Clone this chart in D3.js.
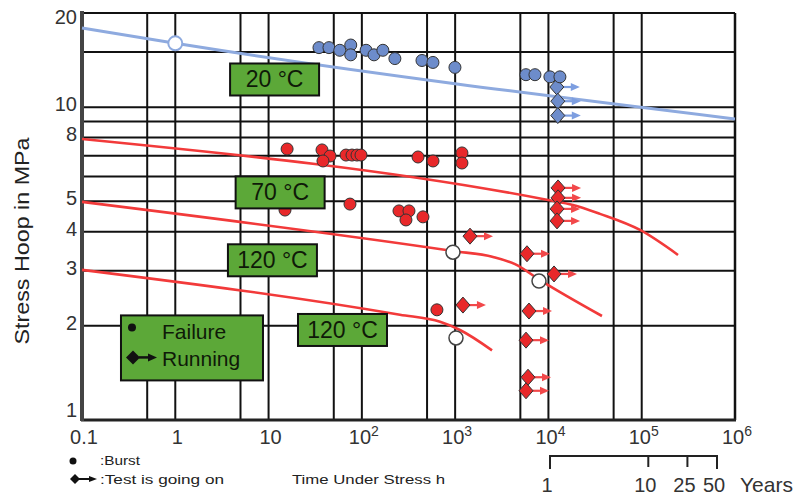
<!DOCTYPE html>
<html>
<head>
<meta charset="utf-8">
<script src="https://cdn.jsdelivr.net/npm/d3@7/dist/d3.min.js"></script>
<style>
  body { margin: 0; background: #fff; }
  text { font-family: "Liberation Sans", Arial, sans-serif; }
</style>
</head>
<body>
<div id="chart"></div>
<script>
// axes
const xTicks = [0.1, 1, 10, 100, 1000, 1e4, 1e5, 1e6];
const xTickLabels = [["0.1", ""], ["1", ""], ["10", ""], ["10", "2"], ["10", "3"], ["10", "4"], ["10", "5"], ["10", "6"]];
const xGrid = [0.5, 1, 5, 10, 50, 100, 500, 1000, 5000, 1e4, 5e4, 1e5];
const yTicks = [1, 2, 3, 4, 5, 8, 10, 20];
const yGrid = [2, 3, 4, 5, 6, 7, 8, 9, 10, 15];
const yearTicks = [1, 10, 25, 50];

// regression curves [hours, MPa]
const curve20 = [[0.1, 17.9], [1, 16.0], [1e6, 9.17]];
const curve70 = [[0.1, 7.91], [9890, 5.05], [18300, 4.87], [35700, 4.56], [95900, 4.05], [245000, 3.37]];
const curve120a = [[0.1, 4.98], [948, 3.47], [2547, 3.32], [4385, 3.15], [8130, 2.8], [37500, 2.15]];
const curve120b = [[0.1, 3.02], [256, 2.17], [689, 2.06], [1127, 1.94], [2485, 1.67]];

// test points
const blueFail = [[34.7, 15.5], [44.4, 15.5], [58, 15.2], [76, 15.8], [76, 14.7], [111, 15.2], [135, 14.7],
  [168, 15.2], [226, 14.3], [441, 14.1], [578, 13.9], [995, 13.4], [5740, 12.7], [7170, 12.7], [10370, 12.5], [13280, 12.5]];
const blueRun = [[12300, 11.6], [12600, 10.45], [12600, 9.4]];
const redFail = [[15.8, 7.35], [37.4, 7.3], [45.6, 6.98], [38.3, 6.73], [67.6, 7.03], [78.4, 7.03], [88.7, 7.03], [97.9, 7.03],
  [400, 6.93], [579, 6.73], [1183, 7.14], [1183, 6.63], [15, 4.69], [74.6, 4.9], [250, 4.66], [320, 4.66], [297, 4.36],
  [452, 4.46], [638, 2.25]];
const redRun = [[1443, 3.87], [5890, 3.4], [11480, 2.93], [12680, 5.52], [12680, 5.13], [12370, 4.73], [12370, 4.33],
  [1213, 2.33], [6190, 2.23], [5750, 1.8], [6040, 1.37], [5750, 1.24]];
const openBlue = [[1, 16.0]];
const openRed = [[948, 3.44], [7925, 2.78], [1021, 1.83]];

const tempLabels = [
  { text: "20 °C", t: 11.6, s: 12.26 },
  { text: "70 °C", t: 13.3, s: 5.34 },
  { text: "120 °C", t: 11.0, s: 3.24 },
  { text: "120 °C", t: 62, s: 1.94 }
];
const legendAt = { t: 1.51, s: 1.70 };

const width = 803, height = 499;
const margins = { top: 13, bottom: 79, left: 82, right: 68 };

const svg = d3.select("#chart").append("svg")
  .attr("width", width)
  .attr("height", height);

const x = d3.scaleLog().domain([0.1, 1e6]).range([margins.left, width - margins.right]);
const y = d3.scaleLog().domain([1, 20]).range([height - margins.bottom, margins.top]);
const yearScale = d3.scaleLog().domain([1, 50]).range([550, 717]);

const x0 = x.range()[0], x1 = x.range()[1], yB = y.range()[0], yT = y.range()[1];

// grid
svg.append("g").selectAll("line").data(xGrid).enter().append("line")
  .attr("x1", d => x(d)).attr("x2", d => x(d))
  .attr("y1", yT).attr("y2", yB)
  .style("stroke", "#111").style("stroke-width", 2);
svg.append("g").selectAll("line").data(yGrid).enter().append("line")
  .attr("x1", x0).attr("x2", x1)
  .attr("y1", d => y(d)).attr("y2", d => y(d))
  .style("stroke", "#111").style("stroke-width", 2);

// frame
svg.append("line").attr("x1", x0).attr("x2", x1).attr("y1", yT).attr("y2", yT)
  .style("stroke", "#111").style("stroke-width", 2);
svg.append("line").attr("x1", x1).attr("x2", x1).attr("y1", yT).attr("y2", yB)
  .style("stroke", "#111").style("stroke-width", 2.5);
svg.append("line").attr("x1", x0 - 1).attr("x2", x1 + 1).attr("y1", yB).attr("y2", yB)
  .style("stroke", "#222").style("stroke-width", 3);
svg.append("line").attr("x1", x0).attr("x2", x0).attr("y1", yT - 2).attr("y2", yB + 1)
  .style("stroke", "#444").style("stroke-width", 4);

// curves
const line = d3.line().x(d => x(d[0])).y(d => y(d[1])).curve(d3.curveMonotoneX);
svg.append("path").datum(curve20).attr("d", line)
  .style("fill", "none").style("stroke", "#8eaadf").style("stroke-width", 3);
[curve70, curve120a, curve120b].forEach(c => {
  svg.append("path").datum(c).attr("d", line)
    .style("fill", "none").style("stroke", "#f23a3a").style("stroke-width", 2.6);
});

// running points: diamond + arrow
function running(data, fill, arrow) {
  const g = svg.append("g").selectAll("g").data(data).enter().append("g")
    .attr("transform", d => "translate(" + x(d[0]) + "," + y(d[1]) + ")");
  g.append("path").attr("d", "M6,0L16,0").style("stroke", arrow).style("stroke-width", 2.2);
  g.append("path").attr("d", "M14,-4L23,0L14,4Z").style("fill", arrow);
  g.append("path").attr("d", "M0,-8L7,0L0,8L-7,0Z")
    .style("fill", fill).style("stroke", "#333").style("stroke-width", 1);
}
running(blueRun, "#6d8ccb", "#7d9ee0");
running(redRun, "#e8282a", "#f2484a");

// failure points
svg.append("g").selectAll("circle").data(blueFail).enter().append("circle")
  .attr("cx", d => x(d[0])).attr("cy", d => y(d[1])).attr("r", 6)
  .style("fill", "#6d8ccb").style("stroke", "#333").style("stroke-width", 1);
svg.append("g").selectAll("circle").data(redFail).enter().append("circle")
  .attr("cx", d => x(d[0])).attr("cy", d => y(d[1])).attr("r", 6)
  .style("fill", "#e8282a").style("stroke", "#333").style("stroke-width", 1);

// open circles on the curves
svg.append("g").selectAll("circle").data(openBlue).enter().append("circle")
  .attr("cx", d => x(d[0])).attr("cy", d => y(d[1])).attr("r", 7)
  .style("fill", "#fff").style("stroke", "#8eaadf").style("stroke-width", 2);
svg.append("g").selectAll("circle").data(openRed).enter().append("circle")
  .attr("cx", d => x(d[0])).attr("cy", d => y(d[1])).attr("r", 7)
  .style("fill", "#fff").style("stroke", "#444").style("stroke-width", 1.5);

// temperature labels
const lab = svg.append("g").selectAll("g").data(tempLabels).enter().append("g")
  .attr("transform", d => "translate(" + x(d.t) + "," + y(d.s) + ")");
lab.append("rect").attr("x", -44.5).attr("y", -16).attr("width", 89).attr("height", 32)
  .style("fill", "#5ca838").style("stroke", "#111").style("stroke-width", 2);
lab.append("text").attr("text-anchor", "middle").attr("y", 8)
  .style("font-size", "23px").style("fill", "#0f1a08")
  .text(d => d.text);

// legend box
const lg = svg.append("g")
  .attr("transform", "translate(" + (x(legendAt.t) - 71) + "," + (y(legendAt.s) - 32.5) + ")");
lg.append("rect").attr("width", 142).attr("height", 65)
  .style("fill", "#5ca838").style("stroke", "#111").style("stroke-width", 2);
lg.append("circle").attr("cx", 11).attr("cy", 12).attr("r", 4).style("fill", "#111");
lg.append("text").attr("x", 41).attr("y", 24).style("font-size", "21px").style("fill", "#0f1a08").text("Failure");
lg.append("path").attr("d", "M12,35L19,42L12,49L5,42Z").style("fill", "#111");
lg.append("path").attr("d", "M18,42L29,42").style("stroke", "#111").style("stroke-width", 2.5);
lg.append("path").attr("d", "M27,38L36,42L27,46Z").style("fill", "#111");
lg.append("text").attr("x", 41).attr("y", 51).style("font-size", "21px").style("fill", "#0f1a08").text("Running");

// x tick labels
const xt = svg.append("g").selectAll("text").data(xTicks).enter().append("text")
  .attr("x", d => x(d) + 2).attr("y", yB + 24)
  .attr("text-anchor", "middle")
  .style("font-size", "20px").style("fill", "#333");
xt.append("tspan").text((d, i) => xTickLabels[i][0]);
xt.append("tspan").attr("dy", -8).style("font-size", "14px").text((d, i) => xTickLabels[i][1]);

// y tick labels
svg.append("g").selectAll("text").data(yTicks).enter().append("text")
  .attr("x", x0 - 5)
  .attr("y", d => Math.min(Math.max(y(d) - 3, yT + 4), yB - 10) + 7)
  .attr("text-anchor", "end")
  .style("font-size", "20px").style("fill", "#333")
  .text(d => d);

// y axis title
svg.append("text")
  .attr("transform", "translate(29,241) rotate(-90)")
  .attr("text-anchor", "middle")
  .attr("textLength", 207).attr("lengthAdjust", "spacingAndGlyphs")
  .style("font-size", "21px").style("fill", "#222")
  .text("Stress Hoop in MPa");

// bottom legend + axis title
svg.append("circle").attr("cx", 73).attr("cy", 461).attr("r", 3.5).style("fill", "#111");
svg.append("text").attr("x", 100).attr("y", 465)
  .attr("textLength", 40).attr("lengthAdjust", "spacingAndGlyphs")
  .style("font-size", "13px").style("fill", "#222").text(":Burst");
svg.append("path").attr("d", "M75,474L80,479L75,484L70,479Z").style("fill", "#111");
svg.append("path").attr("d", "M79,479L90,479").style("stroke", "#111").style("stroke-width", 2);
svg.append("path").attr("d", "M89,476L97,479L89,482Z").style("fill", "#111");
svg.append("text").attr("x", 100).attr("y", 484)
  .attr("textLength", 124).attr("lengthAdjust", "spacingAndGlyphs")
  .style("font-size", "13px").style("fill", "#222").text(":Test is going on");
svg.append("text").attr("x", 292).attr("y", 484)
  .attr("textLength", 153).attr("lengthAdjust", "spacingAndGlyphs")
  .style("font-size", "13px").style("fill", "#222").text("Time Under Stress h");

// years bracket
const yr = svg.append("g");
yr.append("path")
  .attr("d", "M" + yearScale(1) + ",469V456H" + yearScale(50) + "V469")
  .style("fill", "none").style("stroke", "#222").style("stroke-width", 2);
yr.selectAll("line").data(yearTicks.slice(1, 3)).enter().append("line")
  .attr("x1", d => yearScale(d)).attr("x2", d => yearScale(d))
  .attr("y1", 456).attr("y2", 467)
  .style("stroke", "#222").style("stroke-width", 2);
yr.selectAll("text").data(yearTicks).enter().append("text")
  .attr("x", d => yearScale(d) - 3).attr("y", 492)
  .attr("text-anchor", "middle")
  .style("font-size", "20px").style("fill", "#333")
  .text(d => d);
yr.append("text").attr("x", 740).attr("y", 492)
  .style("font-size", "21px").style("fill", "#333").text("Years");
</script>
</body>
</html>
